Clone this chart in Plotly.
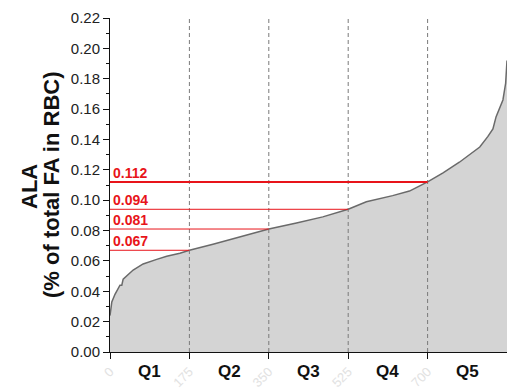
import plotly.graph_objects as go

# Participants ranked by RBC ALA level (n = 875)
rank = [0, 1, 4, 11, 22, 26, 29, 51, 73, 103, 125, 154, 175, 227, 301, 350,
        411, 469, 525, 565, 623, 660, 700, 734, 770, 800, 815, 833, 844, 851,
        859, 866, 872, 875]
ala = [0.024, 0.027, 0.033, 0.038, 0.044, 0.044, 0.048, 0.054, 0.058, 0.061,
       0.063, 0.065, 0.067, 0.071, 0.077, 0.081, 0.085, 0.089, 0.094, 0.099,
       0.103, 0.106, 0.112, 0.118, 0.125, 0.132, 0.135, 0.142, 0.147, 0.155,
       0.161, 0.166, 0.177, 0.192]

# Quintile boundaries and the ALA cut-off value at each
cut_rank = [175, 350, 525, 700]
cut_value = [0.067, 0.081, 0.094, 0.112]
cut_labels = ["0.067", "0.081", "0.094", "0.112"]
cut_width = [1, 1, 1, 2]

quintiles = ["Q1", "Q2", "Q3", "Q4", "Q5"]
quintile_mid = [87.5, 262.5, 437.5, 612.5, 787.5]

x_ticks = [0, 175, 350, 525, 700, 875]
x_ticktext = ["0", "175", "350", "525", "700", "875"]

FONT = "Liberation Sans, Arial, sans-serif"

fig = go.Figure()
fig.add_trace(go.Scatter(
    x=rank, y=ala, mode="lines",
    line=dict(color="#6a6a6a", width=1.5),
    fill="tozeroy", fillcolor="#d4d4d4",
    hoverinfo="skip", showlegend=False,
))

shapes = []
for r in cut_rank:
    shapes.append(dict(type="line", xref="x", yref="y", x0=r, x1=r, y0=0, y1=0.22,
                       line=dict(color="#7a7a7a", width=1, dash="4px,3px"),
                       layer="above"))
for r, v, w in zip(cut_rank, cut_value, cut_width):
    shapes.append(dict(type="line", xref="x", yref="y", x0=0, x1=r, y0=v, y1=v,
                       line=dict(color="#e8141a", width=w), layer="above"))

annotations = []
for v, t in zip(cut_value, cut_labels):
    annotations.append(dict(x=0, y=v, xref="x", yref="y", text=f"<b>{t}</b>",
                            showarrow=False, xanchor="left", yanchor="bottom",
                            xshift=1, yshift=-1,
                            font=dict(family=FONT, size=14, color="#e8141a")))
for q, m in zip(quintiles, quintile_mid):
    annotations.append(dict(x=m, y=0, xref="x", yref="paper", text=f"<b>{q}</b>",
                            showarrow=False, xanchor="center", yanchor="middle",
                            yshift=-19, font=dict(family=FONT, size=17, color="#111")))
annotations.append(dict(x=0, y=0.5, xref="paper", yref="paper", text="<b>ALA</b>",
                        showarrow=False, textangle=-90, xanchor="center",
                        yanchor="middle", xshift=-81, yshift=-2,
                        font=dict(family=FONT, size=22, color="#111")))
annotations.append(dict(x=0, y=0.5, xref="paper", yref="paper",
                        text="<b>(% of total FA in RBC)</b>",
                        showarrow=False, textangle=-90, xanchor="center",
                        yanchor="middle", xshift=-59,
                        font=dict(family=FONT, size=22, color="#111")))

fig.update_layout(
    width=507, height=389,
    margin=dict(l=110, r=0, t=18, b=37),
    paper_bgcolor="white", plot_bgcolor="white",
    shapes=shapes, annotations=annotations,
    font=dict(family=FONT),
    xaxis=dict(range=[0, 875], tickmode="array", tickvals=x_ticks,
               ticktext=x_ticktext, tickangle=-45, showgrid=False,
               zeroline=False, showline=True, linecolor="#111", linewidth=1,
               ticks="outside", ticklen=6, tickcolor="#111",
               tickfont=dict(family=FONT, size=13, color="#e2e2e2")),
    yaxis=dict(range=[0, 0.22], dtick=0.02, tickformat=".2f", showgrid=False,
               zeroline=False, showline=True, linecolor="#111", linewidth=1,
               ticks="outside", ticklen=6, tickcolor="#111",
               tickfont=dict(family=FONT, size=15, color="#222"),
               minor=dict(dtick=0.01, ticks="outside", ticklen=3,
                          tickcolor="#111", showgrid=False)),
)

fig.write_html("out.html")
